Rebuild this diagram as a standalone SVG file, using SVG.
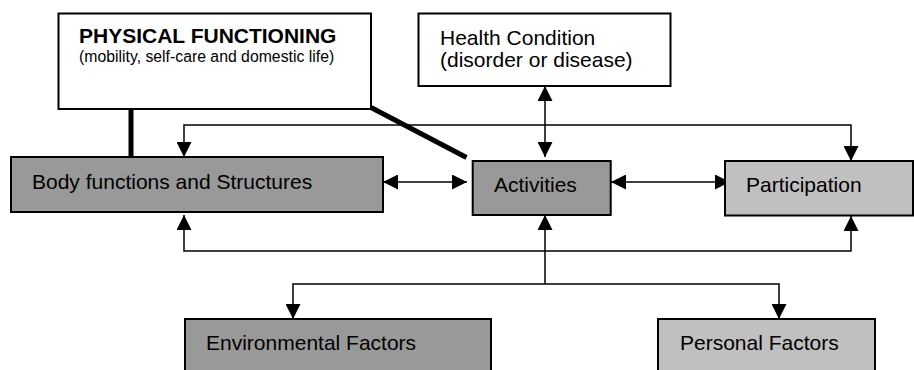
<svg xmlns="http://www.w3.org/2000/svg" width="914" height="370" viewBox="0 0 914 370">
<style>
.box{stroke:#000;stroke-width:2}
.white{fill:#fff}
.dark{fill:#999}
.light{fill:#c0c0c0}
.lbl{font-family:"Liberation Sans",Arial,sans-serif;font-size:21px;fill:#000}
.title{font-family:"Liberation Sans",Arial,sans-serif;font-size:21px;font-weight:bold;fill:#000}
.sub{font-family:"Liberation Sans",Arial,sans-serif;font-size:15.8px;fill:#000}
.conn{fill:none;stroke:#000;stroke-width:1.5}
.thick{fill:none;stroke:#000;stroke-width:5;stroke-linecap:butt}
.arr{marker-end:url(#ah)}
.arr2{marker-start:url(#ah);marker-end:url(#ah)}
</style>
<defs>
<marker id="ah" markerUnits="userSpaceOnUse" markerWidth="15" markerHeight="15" refX="15" refY="7.5" orient="auto-start-reverse" viewBox="0 0 15 15">
<path d="M0,0 L15,7.5 L0,15 Z" fill="#000"/>
</marker>
</defs>
<rect width="914" height="370" fill="#fff"/>
<g id="connectors">
<line class="thick" x1="131" y1="109" x2="131" y2="157"/>
<line class="thick" x1="371" y1="107.5" x2="466.5" y2="157.5"/>
<line class="conn arr2" x1="545" y1="86" x2="545" y2="157"/>
<line class="conn arr2" x1="383" y1="182" x2="467" y2="182"/>
<line class="conn arr2" x1="611" y1="182" x2="730" y2="182"/>
<path class="conn arr2" d="M184,157 V125 H851 V161"/>
<path class="conn arr2" d="M184,215 V251 H851 V216"/>
<path class="conn arr" d="M545,284 V215"/>
<path class="conn arr2" d="M293,319 V284 H779 V319"/>
</g>
<g id="physical-functioning">
<rect class="box white" x="58.5" y="13.5" width="312.5" height="95.5"/>
<text class="title" x="79" y="42.5">PHYSICAL FUNCTIONING</text>
<text class="sub" x="79" y="61.5">(mobility, self-care and domestic life)</text>
</g>
<g id="health-condition">
<rect class="box white" x="418.5" y="13.5" width="252" height="72.5"/>
<text class="lbl" x="440" y="45">Health Condition</text>
<text class="lbl" x="440" y="67">(disorder or disease)</text>
</g>
<g id="body-functions">
<rect class="box dark" x="11" y="157" width="372" height="55"/>
<text class="lbl" x="32" y="188.5">Body functions and Structures</text>
</g>
<g id="activities">
<rect class="box dark" x="472.7" y="161" width="138" height="54"/>
<text class="lbl" x="494" y="191.5">Activities</text>
</g>
<g id="participation">
<rect class="box light" x="725" y="161" width="188" height="54.5"/>
<text class="lbl" x="746" y="191.5">Participation</text>
</g>
<g id="environmental-factors">
<rect class="box dark" x="185" y="319" width="306" height="62"/>
<text class="lbl" x="206" y="350">Environmental Factors</text>
</g>
<g id="personal-factors">
<rect class="box light" x="658" y="319" width="217" height="62"/>
<text class="lbl" x="680" y="350">Personal Factors</text>
</g>
</svg>
